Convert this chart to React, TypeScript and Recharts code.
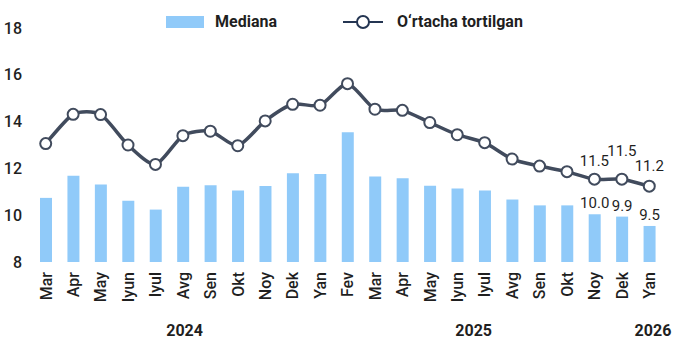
import React from 'react';
import { ComposedChart, Bar, Line, XAxis, YAxis, Legend, LabelList } from 'recharts';

const months = ['Mar', 'Apr', 'May', 'Iyun', 'Iyul', 'Avg', 'Sen', 'Okt', 'Noy', 'Dek', 'Yan', 'Fev', 'Mar', 'Apr', 'May', 'Iyun', 'Iyul', 'Avg', 'Sen', 'Okt', 'Noy', 'Dek', 'Yan'];
const median = [10.74, 11.69, 11.31, 10.62, 10.24, 11.22, 11.28, 11.06, 11.25, 11.79, 11.76, 13.54, 11.65, 11.58, 11.26, 11.14, 11.06, 10.67, 10.42, 10.42, 10.04, 9.94, 9.54];
const weighted = [13.06, 14.31, 14.3, 13.0, 12.17, 13.4, 13.59, 12.97, 14.03, 14.74, 14.7, 15.62, 14.53, 14.48, 13.96, 13.44, 13.1, 12.4, 12.1, 11.86, 11.54, 11.54, 11.24];
const yTicks = [8, 10, 12, 14, 16, 18];
const years = ['2024', '2025', '2026'];
const yearTicks = [5.32, 15.4, 21.65];
const labelFrom = 20;

const data = months.map((m, i) => ({ month: m, median: median[i], weighted: weighted[i] }));

const BAR = '#90CAF9';
const LINE = '#414B5D';
const TEXT = '#1f1f1f';
const FONT = 'Roboto, sans-serif';

const smoothCurve = (ctx: any) => {
  let pts: number[][] = [];
  return {
    areaStart() {},
    areaEnd() {},
    lineStart() { pts = []; },
    point(x: number, y: number) { pts.push([+x, +y]); },
    lineEnd() {
      if (!pts.length) return;
      ctx.moveTo(pts[0][0], pts[0][1]);
      const k = 0.12;
      for (let i = 0; i < pts.length - 1; i++) {
        const p0 = pts[i - 1] || pts[i];
        const p1 = pts[i];
        const p2 = pts[i + 1];
        const p3 = pts[i + 2] || p2;
        ctx.bezierCurveTo(
          p1[0] + (p2[0] - p0[0]) * k, p1[1] + (p2[1] - p0[1]) * k,
          p2[0] - (p3[0] - p1[0]) * k, p2[1] - (p3[1] - p1[1]) * k,
          p2[0], p2[1]
        );
      }
    },
  };
};

const MonthTick = (props: any) => {
  const { x, y, payload } = props;
  return (
    <text
      transform={`translate(${x + 5.8},${y + 2}) rotate(-90)`}
      textAnchor="end"
      fontSize={16}
      fontWeight={500}
      fontFamily={FONT}
      fill={TEXT}
    >
      {payload.value}
    </text>
  );
};

const BarLabel = (props: any) => {
  const { x, y, width, value, index } = props;
  if (index < labelFrom) return null;
  return (
    <text x={x + width / 2} y={y - 6} textAnchor="middle" fontSize={15} fontFamily={FONT} fill={TEXT}>
      {Number(value).toFixed(1)}
    </text>
  );
};

const lineLift: Record<number, number> = { 20: 13, 21: 23, 22: 15 };

const LineLabel = (props: any) => {
  const { x, y, value, index } = props;
  if (index < labelFrom) return null;
  return (
    <text x={x} y={y - (lineLift[index] ?? 14)} textAnchor="middle" fontSize={15} fontFamily={FONT} fill={TEXT}>
      {Number(value).toFixed(1)}
    </text>
  );
};

const renderLegend = () => (
  <div style={{ position: 'relative', width: 680, height: 40, fontFamily: FONT }}>
    <div style={{ position: 'absolute', left: 166, top: 16, width: 38, height: 12, background: BAR }} />
    <span style={{ position: 'absolute', left: 215, top: 12, lineHeight: '20px', fontSize: 16, fontWeight: 700, color: TEXT, whiteSpace: 'nowrap' }}>Mediana</span>
    <svg style={{ position: 'absolute', left: 342, top: 12 }} width={42} height={20}>
      <line x1={1} y1={10} x2={41} y2={10} stroke="#243552" strokeWidth={2} />
      <circle cx={21} cy={10} r={6} fill="#fff" stroke="#243552" strokeWidth={2} />
    </svg>
    <span style={{ position: 'absolute', left: 397, top: 12, lineHeight: '20px', fontSize: 16, fontWeight: 700, color: TEXT, whiteSpace: 'nowrap' }}>O‘rtacha tortilgan</span>
  </div>
);

export default function App() {
  return (
    <div style={{ position: 'absolute', left: 0, top: 0, width: 680, height: 347, background: '#fff' }}>
      <ComposedChart width={680} height={347} data={data} margin={{ top: 28, right: 17, left: 0, bottom: 5 }}>
        <XAxis dataKey="month" interval={0} height={55} tickLine={false} axisLine={false} tick={<MonthTick />} />
        <XAxis
          xAxisId="year"
          type="number"
          domain={[-0.5, 22.5]}
          allowDataOverflow
          ticks={yearTicks}
          interval={0}
          tickFormatter={(v: number) => years[yearTicks.indexOf(v)] ?? ''}
          height={25}
          tickLine={false}
          axisLine={false}
          tick={{ fontSize: 16, fontWeight: 700, fill: TEXT, fontFamily: FONT }}
        />
        <YAxis
          domain={[8, 18]}
          ticks={yTicks}
          interval={0}
          width={32}
          tickLine={false}
          axisLine={false}
          tickMargin={4}
          tick={{ fontSize: 16, fontWeight: 500, fill: TEXT, fontFamily: FONT }}
        />
        <Legend verticalAlign="middle" align="center" layout="horizontal" wrapperStyle={{ top: 0, left: 0, width: 680, height: 40 }} content={renderLegend} />
        <Bar dataKey="median" name="Mediana" fill={BAR} barSize={12} isAnimationActive={false}>
          <LabelList dataKey="median" content={BarLabel} />
        </Bar>
        <Line
          dataKey="weighted"
          name="O‘rtacha tortilgan"
          type={smoothCurve as any}
          stroke={LINE}
          strokeWidth={3.5}
          dot={{ r: 5.5, fill: '#fff', stroke: LINE, strokeWidth: 2 }}
          activeDot={false}
          isAnimationActive={false}
        >
          <LabelList dataKey="weighted" content={LineLabel} />
        </Line>
      </ComposedChart>
    </div>
  );
}
